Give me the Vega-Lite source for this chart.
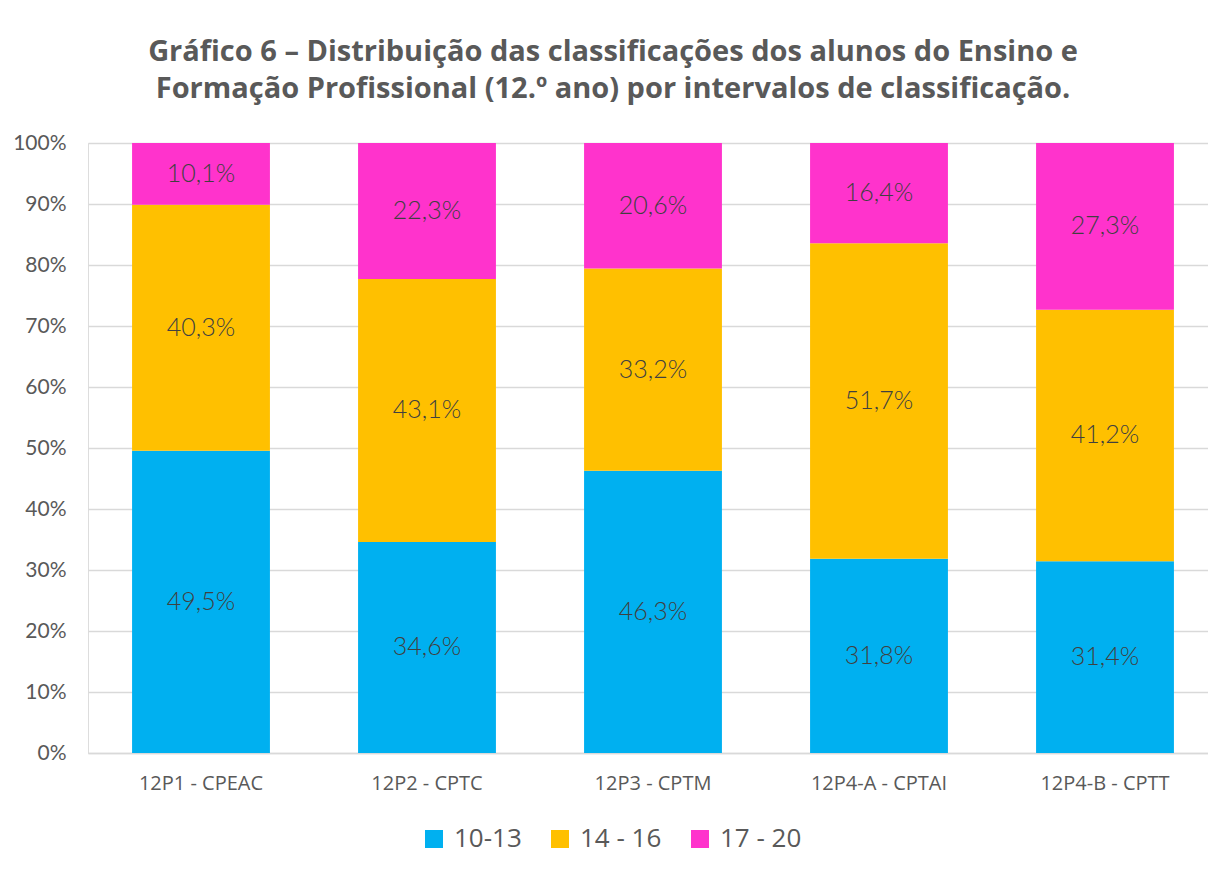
{
  "$schema": "https://vega.github.io/schema/vega-lite/v6.json",
  "width": 1130,
  "height": 610,
  "autosize": {"type": "none"},
  "padding": {"left": 88, "top": 143, "right": 0, "bottom": 126},
  "background": "white",
  "config": {
    "axisX": {"labelFontSize": 20, "labelFont": "Open Sans"}
  },
  "title": {
    "text": ["Gráfico 6 – Distribuição das classificações dos alunos do Ensino e", "Formação Profissional (12.º ano) por intervalos de classificação."],
    "anchor": "middle",
    "frame": "group",
    "dx": -40,
    "offset": 28,
    "font": "Open Sans",
    "fontSize": 29,
    "fontWeight": "bold",
    "color": "#595959",
    "lineHeight": 37
  },
  "data": {
    "values": [
      {"curso": "12P1 - CPEAC", "intervalo": "10-13", "valor": 49.5, "rotulo": "49,5%"},
      {"curso": "12P1 - CPEAC", "intervalo": "14 - 16", "valor": 40.3, "rotulo": "40,3%"},
      {"curso": "12P1 - CPEAC", "intervalo": "17 - 20", "valor": 10.1, "rotulo": "10,1%"},
      {"curso": "12P2 - CPTC", "intervalo": "10-13", "valor": 34.6, "rotulo": "34,6%"},
      {"curso": "12P2 - CPTC", "intervalo": "14 - 16", "valor": 43.1, "rotulo": "43,1%"},
      {"curso": "12P2 - CPTC", "intervalo": "17 - 20", "valor": 22.3, "rotulo": "22,3%"},
      {"curso": "12P3 - CPTM", "intervalo": "10-13", "valor": 46.3, "rotulo": "46,3%"},
      {"curso": "12P3 - CPTM", "intervalo": "14 - 16", "valor": 33.2, "rotulo": "33,2%"},
      {"curso": "12P3 - CPTM", "intervalo": "17 - 20", "valor": 20.6, "rotulo": "20,6%"},
      {"curso": "12P4-A - CPTAI", "intervalo": "10-13", "valor": 31.8, "rotulo": "31,8%"},
      {"curso": "12P4-A - CPTAI", "intervalo": "14 - 16", "valor": 51.7, "rotulo": "51,7%"},
      {"curso": "12P4-A - CPTAI", "intervalo": "17 - 20", "valor": 16.4, "rotulo": "16,4%"},
      {"curso": "12P4-B - CPTT", "intervalo": "10-13", "valor": 31.4, "rotulo": "31,4%"},
      {"curso": "12P4-B - CPTT", "intervalo": "14 - 16", "valor": 41.2, "rotulo": "41,2%"},
      {"curso": "12P4-B - CPTT", "intervalo": "17 - 20", "valor": 27.3, "rotulo": "27,3%"}
    ]
  },
  "encoding": {
    "x": {
      "field": "curso",
      "type": "nominal",
      "sort": null,
      "scale": {"paddingInner": 0.39, "paddingOuter": 0.195},
      "axis": {
        "title": null,
        "labelAngle": 0,
        "labelFont": "Open Sans",
        "labelFontSize": 20,
        "labelColor": "#595959",
        "labelPadding": 20,
        "ticks": false,
        "domainColor": "#d9d9d9",
        "domainWidth": 1.5
      }
    },
    "y": {
      "field": "valor",
      "type": "quantitative",
      "stack": "normalize",
      "scale": {"domain": [0, 1]},
      "axis": {
        "title": null,
        "format": ".0%",
        "values": [0, 0.1, 0.2, 0.3, 0.4, 0.5, 0.6, 0.7, 0.8, 0.9, 1],
        "labelFont": "Lato",
        "labelFontSize": 21,
        "labelColor": "#595959",
        "labelPadding": 22,
        "ticks": false,
        "domain": false,
        "gridColor": "#d9d9d9",
        "gridWidth": 1.5
      }
    }
  },
  "layer": [
    {
      "mark": {"type": "bar"},
      "encoding": {
        "color": {
          "field": "intervalo",
          "type": "nominal",
          "scale": {"domain": ["10-13", "14 - 16", "17 - 20"], "range": ["#00B0F0", "#FFC000", "#FF33CC"]},
          "legend": {
            "title": null,
            "orient": "none",
            "direction": "horizontal",
            "legendX": 333,
            "legendY": 683,
            "symbolType": "square",
            "symbolSize": 324,
            "symbolStrokeWidth": 0,
            "symbolOpacity": 1,
            "labelFont": "Open Sans",
            "labelFontSize": 26,
            "labelColor": "#595959",
            "labelOffset": 7,
            "columnPadding": 25
          }
        },
        "order": {"field": "intervalo", "sort": "ascending"}
      }
    },
    {
      "mark": {"type": "text", "font": "Lato", "fontWeight": 300, "fontSize": 25, "color": "#404040"},
      "encoding": {
        "y": {"field": "valor", "type": "quantitative", "stack": "normalize", "bandPosition": 0.5},
        "detail": {"field": "intervalo"},
        "order": {"field": "intervalo", "sort": "ascending"},
        "text": {"field": "rotulo"}
      }
    }
  ]
}
